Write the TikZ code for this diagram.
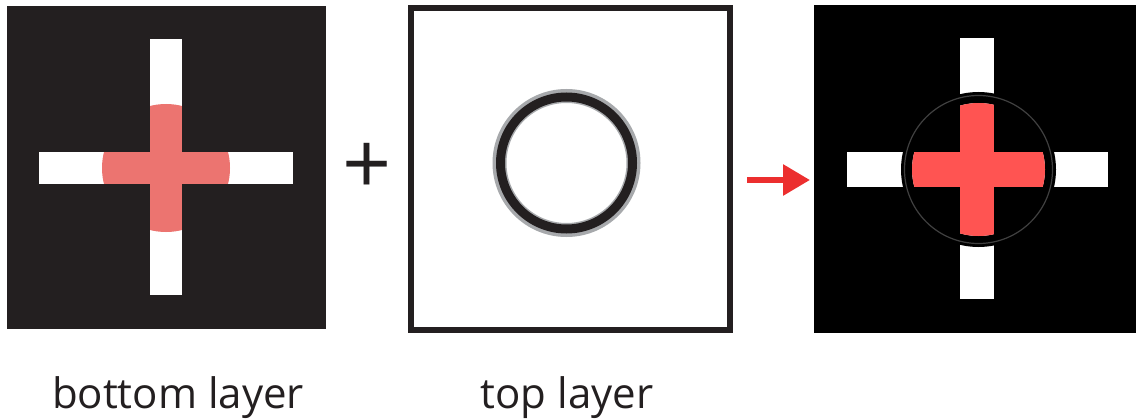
\documentclass[tikz,border=0pt]{standalone}
\usepackage{fontspec}
\setmainfont{Open Sans}
\usetikzlibrary{arrows.meta,positioning}
\definecolor{inkblack}{HTML}{231F20}
\definecolor{softred}{HTML}{EC7470}
\definecolor{brightred}{HTML}{FF5452}
\definecolor{ringgray}{HTML}{A7A9AC}
\definecolor{arrowred}{HTML}{EC2F2F}

\begin{document}
\begin{tikzpicture}[
  x=1pt, y=-1pt,
  panel/.style={inner sep=0pt, outer sep=0pt},
  label/.style={font=\fontsize{42}{50}\selectfont, text=inkblack, anchor=base, inner sep=0pt},
  bar/.style={fill=white},
  redarr/.style={-{Triangle[length=27pt,width=30pt]}, line width=6pt, arrowred}]
  \useasboundingbox (0,0) rectangle (1136,420);
  % bottom layer
  \node[panel, fill=inkblack, minimum width=319pt, minimum height=323pt] (bottom) at (166.5,167.5) {};
  \fill[bar] (150,39) rectangle (182,295);
  \fill[bar] (39,152) rectangle (293,184);
  \begin{scope}
    \clip (166,168) circle (64);
    \fill[softred] (150,39) rectangle (182,295);
    \fill[softred] (39,152) rectangle (293,184);
  \end{scope}
  % plus
  \node[font=\fontsize{86}{90}\selectfont, text=inkblack, inner sep=0pt] (plus) at (367,169) {+};
  % top layer
  \node[panel, draw=inkblack, line width=6pt, fill=white, minimum width=318.5pt, minimum height=322pt] (top) at (570.25,169) {};
  \draw[ringgray, line width=14pt] (566.5,163) circle (67);
  \draw[inkblack, line width=9pt] (566.5,163) circle (66);
  % arrow
  \coordinate (tail) at (747,180);
  \coordinate (head) at (810,180);
  \draw[redarr] (tail) -- (head);
  % result
  \node[panel, fill=black, minimum width=322pt, minimum height=328pt] (result) at (975,169) {};
  \fill[bar] (960,38) rectangle (994,299);
  \fill[bar] (847,152) rectangle (1108,187);
  \draw[black, line width=11pt] (978.5,169.5) circle (72);
  \begin{scope}
    \clip (978.5,169.5) circle (66.5);
    \fill[brightred] (960,38) rectangle (994,299);
    \fill[brightred] (847,152) rectangle (1108,187);
  \end{scope}
  \draw[black!75, line width=1.2pt] (978.5,169.5) circle (74);
  % labels
  \node[label] (bottomlabel) at (178,408) {bottom layer};
  \node[label] (toplabel) at (567,408) {top layer};
\end{tikzpicture}
\end{document}
